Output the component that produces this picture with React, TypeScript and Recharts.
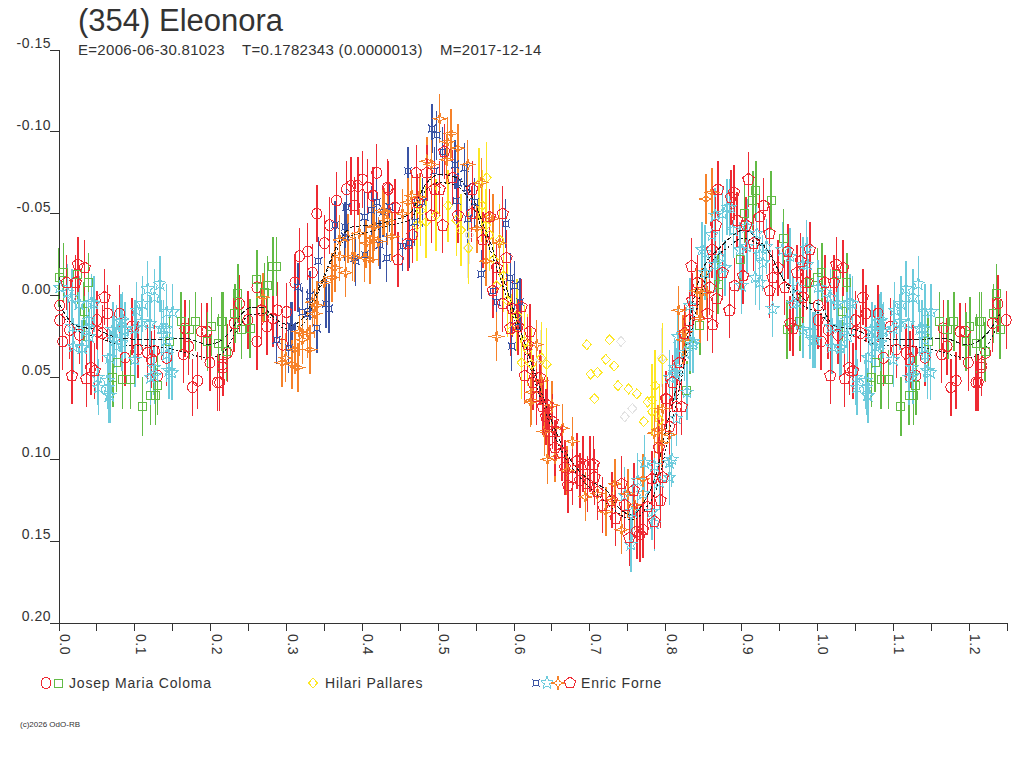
import React from 'react';
import { ComposedChart, Scatter, Line, ErrorBar, XAxis, YAxis } from 'recharts';

const RED = '#ee2a33';
const GREEN = '#62bb46';
const YELLOW = '#fde725';
const BLUE = '#3a53a4';
const CYAN = '#6dcbdc';
const ORANGE = '#f6822a';
const PALE = '#e2e2e2';
const INK = '#333333';

const xTicks = [0, 0.05, 0.1, 0.15, 0.2, 0.25, 0.3, 0.35, 0.4, 0.45, 0.5, 0.55, 0.6, 0.65, 0.7, 0.75, 0.8, 0.85, 0.9, 0.95, 1, 1.05, 1.1, 1.15, 1.2, 1.25];
const yTicks = [-0.15, -0.1, -0.05, 0, 0.05, 0.1, 0.15, 0.2];

// [phase, magnitude], phases under 0.25 get drawn again after 1.0
const greenSquares = [
  [.000,-.011],[.006,-.014],[.025,-.013],[.039,-.008],[.033,.010],[.076,.041],[.071,.050],[.084,.051],[.094,.051],[.110,.068],
  [.121,.061],[.127,.061],[.130,.055],[.161,.016],[.172,.021],[.180,.016],[.196,.028],[.201,.019],[.214,.016],[.210,.029],
  [.146,.028],[.236,-.001],[.232,.011],[.216,.016],[.221,.034],[.241,.021],[.252,.020],[.261,-.010],[.271,-.002],[.275,-.006],
  [.282,-.018],[.287,-.018],[.828,.058],[.832,.030],[.845,.018],[.869,-.007],[.898,-.022],[.904,-.050],[.915,-.058],[.919,-.064],
  [.939,-.058],[.955,-.035],[.960,.021],[.977,.016],[.990,-.008],
];

const redCircles = [
  [.001,.006],[.005,.028],[.014,.021],[.001,.015],[.027,.024],[.050,.015],[.051,.022],[.057,.023],[.064,.011],[.080,.011],
  [.096,.019],[.087,.038],[.104,.033],[.117,.035],[.122,.039],[.130,.049],[.126,.034],[.142,.038],[.166,.020],[.164,.036],
  [.171,.031],[.176,.056],[.183,.052],[.188,.022],[.195,.022],[.199,.041],[.209,.053],[.216,.042],[.261,-.005],[.238,.005],
  [.267,.009],[.249,.015],[.261,.028],[.274,.019],[.288,.009],[.282,.014],[.300,.010],[.295,.030],[.222,.035],[.216,.044],
  [.212,.053],[.231,.017],[.311,-.008],[.317,-.024],[.328,-.027],[.334,-.014],[.340,-.050],[.350,-.032],[.357,-.043],[.366,-.058],
  [.379,-.065],[.385,-.067],[.394,-.067],[.400,-.071],[.390,-.055],[.407,-.066],[.419,-.075],[.414,-.061],[.433,-.066],[.434,-.065],
];

const yellowBarred = [
  [.472,-.043],[.477,-.052],[.497,-.049],[.513,-.055],[.524,-.046],[.540,-.029],[.554,-.068],[.564,-.072],[.563,-.043],[.568,-.037],
  [.581,-.034],[.573,-.022],[.577,-.006],[.591,.003],[.597,.021],[.610,.041],[.618,.033],[.623,.042],[.636,.038],[.643,.042],
  [.796,.039],[.786,.055],[.782,.064],[.792,.076],[.484,-.045],[.530,-.040],[.558,-.055],[.586,-.012],[.604,.012],[.614,.028],
];

const yellowLoose = [
  [.696,.030],[.726,.027],[.721,.039],[.732,.043],[.701,.048],[.710,.047],[.737,.055],[.751,.057],[.762,.060],[.706,.063],
  [.776,.065],[.771,.077],[.782,.071],
];

const paleBarred = [[.539,-.029],[.541,-.037],[.635,.039],[.795,.038]];
const paleLoose = [[.741,.028],[.746,.074],[.756,.069]];

const blueCrosses = [
  [.287,.027],[.303,.032],[.307,.019],[.308,.019],[.306,.019],[.340,.020],[.315,-.005],[.331,.000],[.321,.010],[.328,.011],
  [.352,.005],[.356,.008],[.342,-.021],[.364,-.043],[.377,-.042],[.379,-.054],[.403,-.048],[.419,-.057],[.412,-.052],[.427,-.051],
  [.423,-.031],[.391,-.021],[.403,-.025],[.432,-.023],[.377,-.036],[.390,-.023],[.453,-.030],[.462,-.032],[.436,-.054],[.460,-.076],
  [.469,-.045],[.479,-.057],[.492,-.102],[.498,-.098],[.495,-.076],[.506,-.088],[.522,-.080],[.535,-.078],[.526,-.069],[.538,-.066],
  [.524,-.058],[.539,-.047],[.548,-.057],[.557,-.013],[.589,-.044],[.572,-.003],[.577,.004],[.595,-.011],[.601,-.006],[.597,.031],
  [.608,.004],[.605,.019],
];

const cyanStars = [
  [.001,-.005],[.017,.001],[.027,.005],[.043,.004],[.018,.019],[.031,.032],[.040,.025],[.051,.050],[.064,.052],[.067,.061],
  [.067,.038],[.071,.021],[.084,.015],[.087,.021],[.076,.031],[.100,.020],[.102,.009],[.110,.005],[.117,-.004],[.126,.001],
  [.133,-.007],[.109,.016],[.120,.017],[.135,.020],[.142,.020],[.150,.010],[.142,.010],[.100,.039],[.126,.049],[.149,.047],
  [.142,.036],[.076,.023],[.036,.020],[.083,.029],[.828,.059],[.812,.047],[.805,.050],[.825,.035],[.832,.029],[.836,.028],
  [.832,.006],[.848,-.028],[.852,-.026],[.861,-.037],[.865,-.049],[.875,-.050],[.881,-.054],[.885,-.054],[.889,-.040],[.898,-.028],
  [.871,-.024],[.852,-.014],[.865,-.019],[.878,-.017],[.900,-.006],[.918,-.011],[.924,-.008],[.941,.008],[.907,-.042],[.920,-.038],
  [.933,-.030],[.907,-.030],[.924,-.025],[.928,-.020],[.954,-.028],[.964,-.024],[.986,-.029],[.974,-.005],[.981,-.019],[.987,-.019],
  [.973,.004],[.981,.021],[.990,.022],[.994,.027],[.754,.152],[.763,.113],[.772,.102],[.785,.104],[.805,.102],[.808,.100],
  [.792,.114],[.805,.111],[.756,.132],[.746,.122],[.785,.139],[.814,.075],[.812,.044],[.814,.049],[.836,.030],[.816,.025],
  [.770,.121],[.782,.132],[.072,.021],[.082,.016],[.086,.022],[.065,.056],[.066,.061],[.052,.056],[.030,.032],[.019,.031],
  [.997,.027],[.968,.005],[.026,.005],[.046,.005],[.011,-.002],[.039,.015],[.073,.027],[.121,.050],[.125,.044],[.145,.046],
  [.142,.027],[.138,.020],
];

const orangeSparks = [
  [.294,.041],[.299,.038],[.307,.042],[.315,.044],[.311,.033],[.331,.033],[.321,.027],[.321,.023],[.328,.023],[.317,.022],
  [.337,.011],[.340,.006],[.334,.004],[.269,.001],[.350,-.008],[.360,-.011],[.364,-.017],[.378,-.014],[.387,-.024],[.370,-.024],
  [.370,-.034],[.381,-.035],[.403,-.023],[.410,-.022],[.396,-.038],[.414,-.035],[.421,-.033],[.416,-.042],[.427,-.052],[.433,-.046],
  [.390,-.023],[.405,-.032],[.439,-.036],[.429,-.051],[.414,-.042],[.453,-.050],[.465,-.061],[.460,-.057],[.475,-.060],[.485,-.082],
  [.491,-.080],[.502,-.108],[.517,-.099],[.512,-.094],[.526,-.090],[.511,-.083],[.539,-.080],[.551,-.041],[.557,-.069],[.568,-.048],
  [.572,-.047],[.581,-.032],[.563,-.021],[.577,.025],[.630,.030],[.636,.052],[.623,.059],[.622,.065],[.650,.067],[.623,.064],
  [.664,.081],[.640,.083],[.677,.089],[.644,.100],[.654,.099],[.670,.107],[.694,.123],[.710,.121],[.721,.132],[.733,.115],
  [.730,.125],[.742,.143],[.759,.128],[.770,.112],[.750,.121],[.796,.069],[.785,.084],[.795,.090],[.805,.085],[.790,.082],
  [.823,.027],[.817,.009],[.826,.022],[.845,.014],[.841,-.003],[.848,-.002],[.854,-.002],[.853,-.059],[.861,-.063],
];

const redPentagons = [
  [.025,-.019],[.034,-.017],[.010,-.008],[.022,-.008],[.060,.001],[.017,.049],[.036,.051],[.042,.044],[.047,.046],[.734,.136],
  [.785,.138],[.793,.125],[.805,.080],[.818,.041],[.834,-.018],[.869,-.065],[.886,-.060],[.890,-.063],[.909,-.071],[.866,-.043],
  [.929,-.055],[.937,-.038],[.961,-.027],[.990,-.028],
  [.447,-.022],[.491,-.049],[.466,-.037],[.460,-.032],[.443,-.054],[.473,-.057],[.471,-.075],[.485,-.075],[.508,-.088],[.519,-.072],
  [.506,-.043],[.526,-.049],[.495,-.065],[.502,-.065],[.545,-.065],[.544,-.050],[.559,-.034],[.585,-.050],[.590,-.023],[.568,-.048],
  [.577,-.017],[.585,.005],[.572,-.003],[.598,.008],[.610,.007],[.595,.020],[.605,.019],[.621,.022],[.618,.030],[.614,.049],
  [.625,.053],[.634,.050],[.630,.062],[.644,.067],[.638,.068],[.642,.074],[.651,.077],[.646,.083],[.656,.083],[.654,.093],
  [.663,.096],[.667,.105],[.677,.111],[.671,.116],[.683,.101],[.691,.103],[.700,.103],[.705,.103],[.706,.111],[.687,.113],
  [.697,.115],[.710,.120],[.717,.128],[.729,.125],[.742,.115],[.746,.128],[.758,.119],[.752,.148],[.762,.144],[.770,.143],
  [.766,.146],[.776,.129],[.782,.112],[.796,.111],[.791,.093],[.801,.063],[.814,.068],[.821,.068],[.809,.053],[.825,.023],
  [.800,.063],[.831,.015],[.835,.003],[.842,-.008],[.858,-.005],[.855,.011],[.862,.018],[.867,.002],[.884,.009],[.861,-.028],
  [.875,-.014],[.891,-.006],[.902,-.012],[.894,-.046],[.906,-.043],[.916,-.032],[.937,-.003],[.948,-.017],[.957,-.005],[.941,-.011],
  [.978,-.021],[.973,-.014],[.986,-.008],[.981,.001],[.964,.017],[.968,.020],[.924,-.048],
];

const fitUpper = [
  [.000,.005],[.021,.018],[.050,.021],[.080,.026],[.126,.027],[.166,.026],[.197,.030],[.224,.023],[.241,.011],[.255,.007],
  [.269,.007],[.278,.011],[.295,.017],[.307,.018],[.321,.014],[.337,.001],[.353,-.016],[.366,-.030],[.387,-.042],[.410,-.043],
  [.432,-.045],[.462,-.050],[.485,-.069],[.502,-.074],[.524,-.072],[.545,-.060],[.559,-.044],[.577,-.022],[.598,.007],[.611,.025],
  [.625,.044],[.643,.068],[.656,.084],[.677,.102],[.700,.113],[.722,.119],[.739,.130],[.756,.134],[.770,.127],[.788,.108],
  [.801,.080],[.814,.056],[.828,.027],[.834,.009],[.849,-.016],[.871,-.029],[.884,-.035],[.902,-.040],[.920,-.035],[.937,-.026],
  [.954,-.011],[.973,-.002],[.994,.005],
];

const fitLower = [
  [.000,.010],[.027,.022],[.050,.025],[.080,.030],[.126,.031],[.152,.033],[.197,.038],[.218,.034],[.235,.021],[.251,.012],
  [.269,.011],[.284,.015],[.297,.020],[.320,.018],[.343,-.003],[.363,-.025],[.387,-.037],[.412,-.039],[.436,-.043],[.462,-.046],
  [.485,-.065],[.502,-.069],[.524,-.067],[.545,-.055],[.561,-.037],[.577,-.017],[.598,.012],[.611,.030],[.625,.049],[.643,.073],
  [.664,.096],[.687,.111],[.713,.123],[.735,.132],[.756,.137],[.772,.131],[.791,.113],[.804,.085],[.817,.059],[.830,.030],
  [.839,.012],[.861,-.020],[.881,-.029],[.902,-.035],[.920,-.032],[.933,-.028],[.950,-.014],[.973,.003],[.994,.009],
];

// the phase axis runs on to 1.25, so the first quarter shows twice
const folded = (pairs: number[][], err: number) => {
  const pts = pairs.map(([x, y]) => ({ x, y, err }));
  const again = pairs.filter(([x]) => x <= 0.25).map(([x, y]) => ({ x: x + 1, y, err }));
  return [...pts, ...again];
};

const Marker = ({ kind, color, cx, cy }: any) => {
  const common = { fill: 'none', stroke: color, strokeWidth: 1 };
  if (cx == null || cy == null) return null;
  const ring = (n: number, outer: number, inner?: number, start = -Math.PI / 2) => {
    const count = inner ? n * 2 : n;
    const pts = [];
    for (let i = 0; i < count; i++) {
      const r = inner && i % 2 ? inner : outer;
      const a = start + (i * 2 * Math.PI) / count;
      pts.push(`${(cx + r * Math.cos(a)).toFixed(1)},${(cy + r * Math.sin(a)).toFixed(1)}`);
    }
    return pts.join(' ');
  };
  switch (kind) {
    case 'circle':
      return <ellipse cx={cx} cy={cy} rx={5} ry={5.5} {...common} />;
    case 'square':
      return <rect x={cx - 4} y={cy - 4} width={8} height={8} {...common} />;
    case 'diamond':
      return <polygon points={`${cx},${cy - 5} ${cx + 4.5},${cy} ${cx},${cy + 5} ${cx - 4.5},${cy}`} {...common} />;
    case 'cross':
      return (
        <path
          d={`M${cx - 2.5} ${cy - 2.5}h5v5h-5zM${cx - 4} ${cy - 4}l1.5 1.5M${cx + 4} ${cy - 4}l-1.5 1.5M${cx - 4} ${cy + 4}l1.5 -1.5M${cx + 4} ${cy + 4}l-1.5 -1.5`}
          {...common}
        />
      );
    case 'star':
      return <polygon points={ring(5, 6.5, 2.8)} {...common} />;
    case 'spark':
      return <polygon points={ring(4, 6.5, 2)} {...common} />;
    default:
      return <polygon points={ring(5, 6)} {...common} />;
  }
};

const YTick = ({ x, y, payload }: any) => (
  <text x={x + 1} y={y - 2} textAnchor="end" fontSize={14} letterSpacing={0.5} fill={INK}>
    {payload.value.toFixed(2)}
  </text>
);

const XTick = ({ x, y, payload }: any) => {
  if (Math.round(payload.value * 100) % 10 !== 0) return null;
  return (
    <text x={0} y={0} transform={`translate(${x + 1},${y + 3}) rotate(90)`} fontSize={14} letterSpacing={0.5} fill={INK}>
      {payload.value.toFixed(1)}
    </text>
  );
};

const session = (key: string, pairs: number[][], err: number, kind: string, color: string) => (
  <Scatter
    key={key}
    data={folded(pairs, err)}
    isAnimationActive={false}
    shape={(p: any) => <Marker kind={kind} color={color} cx={p.cx} cy={p.cy} />}
  >
    {err > 0 && <ErrorBar dataKey="err" direction="y" width={0} stroke={color} strokeWidth={1.4} isAnimationActive={false} />}
  </Scatter>
);

const label = { fontSize: 14, fill: INK };

export default function App() {
  return (
    <div style={{ position: 'absolute', left: 0, top: 0, width: 1024, height: 768, background: '#fff', fontFamily: '"Liberation Sans", Arial, sans-serif', shapeRendering: 'crispEdges' }}>
      <ComposedChart width={1024} height={768} margin={{ top: 50, right: 17, bottom: 0, left: 0 }}>
        <XAxis
          dataKey="x"
          type="number"
          domain={[0, 1.25]}
          ticks={xTicks}
          interval={0}
          height={145}
          tickSize={8}
          tickMargin={0}
          stroke={INK}
          tick={<XTick />}
        />
        <YAxis
          dataKey="y"
          type="number"
          reversed
          domain={[-0.15, 0.2]}
          ticks={yTicks}
          interval={0}
          width={59}
          tickSize={9}
          tickMargin={0}
          stroke={INK}
          tick={<YTick />}
        />
        {session('redCircle', redCircles, 0.0175, 'circle', RED)}
        {session('green', greenSquares, 0.018, 'square', GREEN)}
        {session('paleBarred', paleBarred, 0.018, 'diamond', PALE)}
        {session('paleLoose', paleLoose, 0, 'diamond', PALE)}
        {session('yellowBarred', yellowBarred, 0.022, 'diamond', YELLOW)}
        {session('yellowLoose', yellowLoose, 0, 'diamond', YELLOW)}
        {session('blue', blueCrosses, 0.015, 'cross', BLUE)}
        {session('cyan', cyanStars, 0.017, 'star', CYAN)}
        {session('orange', orangeSparks, 0.015, 'spark', ORANGE)}
        {session('pentagon', redPentagons, 0.017, 'pentagon', RED)}
        <Line data={folded(fitUpper, 0)} dataKey="y" type="monotone" stroke="#1a1a1a" strokeWidth={1} strokeDasharray="5 2" dot={false} activeDot={false} isAnimationActive={false} />
        <Line data={folded(fitLower, 0)} dataKey="y" type="monotone" stroke="#1a1a1a" strokeWidth={1} strokeDasharray="2 2" dot={false} activeDot={false} isAnimationActive={false} />

        <text x={78} y={31} fontSize={31} fill={INK}>(354) Eleonora</text>
        <text x={78} y={55} fontSize={15} fill={INK} letterSpacing={0.3}>E=2006-06-30.81023</text>
        <text x={242} y={55} fontSize={15} fill={INK} letterSpacing={0.3}>T=0.1782343 (0.0000013)</text>
        <text x={440} y={55} fontSize={15} fill={INK} letterSpacing={0.3}>M=2017-12-14</text>

        <Marker kind="circle" color={RED} cx={46} cy={683} />
        <Marker kind="square" color={GREEN} cx={58} cy={683} />
        <text x={69} y={688} {...label} letterSpacing={0.8}>Josep Maria Coloma</text>
        <Marker kind="diamond" color={YELLOW} cx={313} cy={683} />
        <text x={325} y={688} {...label} letterSpacing={0.8}>Hilari Pallares</text>
        <Marker kind="cross" color={BLUE} cx={536} cy={683} />
        <Marker kind="star" color={CYAN} cx={547} cy={683} />
        <Marker kind="spark" color={ORANGE} cx={558} cy={683} />
        <Marker kind="pentagon" color={RED} cx={570} cy={683} />
        <text x={581} y={688} {...label} letterSpacing={0.8}>Enric Forne</text>

        <text x={20} y={727} fontSize={8} fill={INK}>(c)2026 OdO-RB</text>
      </ComposedChart>
    </div>
  );
}
